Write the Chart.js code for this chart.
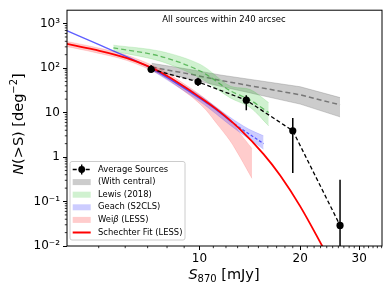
<!DOCTYPE html>
<html>
<head>
<meta charset="utf-8">
<script src="https://cdn.jsdelivr.net/npm/chart.js@4.4.0/dist/chart.umd.min.js"></script>
<style>
  html, body { margin: 0; padding: 0; background: #fff; }
</style>
</head>
<body>
<canvas id="myChart" width="390" height="293"></canvas>
<script>
// cumulative counts N(>S), S in mJy
const avgS  = [7.17, 9.9, 13.8, 19.0, 26.3];
const avgN  = [94, 49, 19, 3.9, 0.029];
const avgLo = [77, 39.5, 11.3, 0.44, 0.001];
const avgHi = [117, 60.7, 24.5, 7.5, 0.31];

const centralS  = [7.2, 9.38, 11.53, 20.0, 26.3];
const centralN  = [105, 73, 53, 25, 14.9];
const centralHi = [128, 93, 70, 38, 21.7];
const centralLo = [86, 57, 39, 15.5, 8.0];

const lewisS  = [5.53, 7.63, 10.05, 12.35, 14.18, 16.1];
const lewisN  = [284, 185, 86, 31, 19, 10];
const lewisHi = [327, 240, 121, 39.5, 33, 16.7];
const lewisLo = [240, 143, 60, 21.4, 13, 5.0];

const geachS     = [4.0, 5.05, 7.12, 10.05, 11.14, 12.35, 15.54];
const geachN     = [700, 327, 102, 20.6, 12.1, 6.5, 2.0];
const geachBandS = [7.2, 10.05, 12.35, 14.0, 15.54];
const geachHi    = [108, 24, 7.8, 4.3, 3.0];
const geachLo    = [90, 17.5, 5.2, 2.6, 1.5];

const weissS  = [4.0, 4.82, 6.07, 7.63, 9.38, 10.05, 10.5, 11.27, 12.35, 13.23, 14.35];
const weissHi = [400, 300, 195, 95, 36, 25, 19.5, 12.8, 7.2, 3.4, 1.55];
const weissLo = [305, 228, 148, 70, 24, 15.4, 11, 5.6, 2.3, 0.98, 0.33];

const fitS = [4.0, 4.82, 6.07, 7.63, 10.05, 11.27, 13.23, 15.54, 17.43, 20.0, 23.2, 24.6];
const fitN = [352, 262, 167, 81.4, 21.9, 11.8, 4.2, 1.16, 0.384, 0.0777, 0.0104, 0.0046];

const xTickVals = [10, 20, 30];
const xTickLabels = ['10', '20', '30'];
const yTickVals = [0.01, 0.1, 1, 10, 100, 1000];
const yTickLabels = ['10⁻²', '10⁻¹', '1', '10', '10²', '10³'];

const FONT = '"DejaVu Sans", sans-serif';

function pts(xs, ys) {
    return xs.map((x, i) => ({ x: x, y: ys[i] }));
}

// minor tick positions (not data)
const xMinor = [5, 6, 7, 8, 9];
for (let v = 11; v <= 35; v++) if (v !== 20 && v !== 30) xMinor.push(v);
const yMinor = [];
for (let d = 0.01; d < 2000; d *= 10) {
    for (let k = 2; k <= 9; k++) if (k * d < 2000) yMinor.push(k * d);
}

function drawParts(ctx, parts, cx, cy) {
    let w = 0;
    parts.forEach(p => { ctx.font = p.f; p.w = ctx.measureText(p.t).width; w += p.w; });
    let x = cx - w / 2;
    parts.forEach(p => {
        ctx.font = p.f;
        ctx.fillText(p.t, x, cy + (p.dy || 0));
        x += p.w;
    });
}

const extras = {
    id: 'extras',
    afterDraw(chart) {
        const { ctx, chartArea: a, scales } = chart;
        const x = scales.x, y = scales.y;
        ctx.save();

        // minor ticks
        ctx.strokeStyle = '#000';
        ctx.lineWidth = 0.8;
        ctx.beginPath();
        xMinor.forEach(v => {
            const px = x.getPixelForValue(v);
            ctx.moveTo(px, a.bottom);
            ctx.lineTo(px, a.bottom + 2.2);
        });
        yMinor.forEach(v => {
            const py = y.getPixelForValue(v);
            ctx.moveTo(a.left, py);
            ctx.lineTo(a.left - 2.2, py);
        });
        ctx.stroke();

        // frame
        ctx.strokeStyle = '#000';
        ctx.lineWidth = 1;
        ctx.strokeRect(a.left, a.top, a.right - a.left, a.bottom - a.top);

        ctx.fillStyle = '#000';
        ctx.textBaseline = 'middle';
        ctx.textAlign = 'center';
        ctx.font = '8.5px ' + FONT;
        ctx.fillText('All sources within 240 arcsec', 224, 20);

        // axis titles
        ctx.textAlign = 'left';
        ctx.textBaseline = 'alphabetic';
        drawParts(ctx, [
            { t: 'S', f: 'italic 14.5px ' + FONT },
            { t: '870', f: '10px ' + FONT, dy: 3 },
            { t: ' [mJy]', f: '14.5px ' + FONT }
        ], 224, 279);

        ctx.save();
        ctx.translate(23, 124);
        ctx.rotate(-Math.PI / 2);
        drawParts(ctx, [
            { t: 'N', f: 'italic 14.5px ' + FONT },
            { t: '(>S) [deg', f: '14.5px ' + FONT },
            { t: '−2', f: '10px ' + FONT, dy: -6 },
            { t: ']', f: '14.5px ' + FONT }
        ], 0, 0);
        ctx.restore();

        // legend
        const lx = 70, ly = 161.5, lw = 115, lh = 78.5;
        ctx.fillStyle = 'rgba(255,255,255,0.8)';
        ctx.strokeStyle = '#cccccc';
        ctx.lineWidth = 1;
        ctx.beginPath();
        ctx.roundRect(lx, ly, lw, lh, 2);
        ctx.fill();
        ctx.stroke();

        const items = [
            { kind: 'avg', label: 'Average Sources' },
            { kind: 'box', c: 'rgba(128,128,128,0.4)', label: '(With central)' },
            { kind: 'box', c: 'rgba(40,190,40,0.22)', label: 'Lewis (2018)' },
            { kind: 'box', c: 'rgba(0,0,255,0.2)', label: 'Geach (S2CLS)' },
            { kind: 'box', c: 'rgba(255,0,0,0.2)', label: 'weiss' },
            { kind: 'line', c: '#ff0000', label: 'Schechter Fit (LESS)' }
        ];
        const hx0 = 72.7, hx1 = 90.7, tx = 98;
        items.forEach((it, i) => {
            const ry = 169.5 + i * 12.6;
            if (it.kind === 'avg') {
                ctx.strokeStyle = '#000';
                ctx.lineWidth = 1.4;
                ctx.setLineDash([4, 2.5]);
                ctx.beginPath();
                ctx.moveTo(hx0, ry); ctx.lineTo(hx1, ry);
                ctx.stroke();
                ctx.setLineDash([]);
                ctx.fillStyle = '#000';
                ctx.beginPath();
                ctx.arc((hx0 + hx1) / 2, ry, 3.4, 0, Math.PI * 2);
                ctx.fill();
                ctx.lineWidth = 1.4;
                ctx.beginPath();
                ctx.moveTo((hx0 + hx1) / 2, ry - 5); ctx.lineTo((hx0 + hx1) / 2, ry + 5);
                ctx.stroke();
            } else if (it.kind === 'box') {
                ctx.fillStyle = it.c;
                ctx.fillRect(hx0, ry - 3, hx1 - hx0, 6);
            } else {
                ctx.strokeStyle = it.c;
                ctx.lineWidth = 2;
                ctx.beginPath();
                ctx.moveTo(hx0, ry); ctx.lineTo(hx1, ry);
                ctx.stroke();
            }
            ctx.fillStyle = '#000';
            ctx.textBaseline = 'middle';
            ctx.textAlign = 'left';
            if (it.label === 'weiss') {
                let px = tx;
                ctx.font = '8.4px ' + FONT;
                ctx.fillText('Wei', px, ry); px += ctx.measureText('Wei').width;
                ctx.font = 'italic 8.4px ' + FONT;
                ctx.fillText('β', px, ry); px += ctx.measureText('β').width;
                ctx.font = '8.4px ' + FONT;
                ctx.fillText(' (LESS)', px, ry);
            } else {
                ctx.font = '8.4px ' + FONT;
                ctx.fillText(it.label, tx, ry);
            }
        });

        ctx.restore();
    }
};

const band = { showLine: true, pointRadius: 0, borderWidth: 0.8, fill: false };

const datasets = [
    Object.assign({}, band, { data: pts(centralS, centralHi), borderColor: 'rgba(128,128,128,0.45)' }),
    Object.assign({}, band, { data: pts(centralS, centralLo), borderColor: 'rgba(128,128,128,0.45)',
        fill: '-1', backgroundColor: 'rgba(128,128,128,0.4)' }),
    { data: pts(centralS, centralN), showLine: true, pointRadius: 0, borderColor: '#777777',
        borderWidth: 1.5, borderDash: [5, 3], fill: false },

    Object.assign({}, band, { data: pts(lewisS, lewisHi), borderColor: 'rgba(40,190,40,0.2)', tension: 0.3 }),
    Object.assign({}, band, { data: pts(lewisS, lewisLo), borderColor: 'rgba(40,190,40,0.2)', tension: 0.3,
        fill: '-1', backgroundColor: 'rgba(40,190,40,0.22)' }),
    { data: pts(lewisS, lewisN), showLine: true, pointRadius: 0, borderColor: 'rgba(60,170,60,0.75)',
        borderWidth: 1.3, borderDash: [5, 3], fill: false, tension: 0.3 },

    Object.assign({}, band, { data: pts(weissS, weissHi), borderColor: 'rgba(255,0,0,0.15)', tension: 0.3 }),
    Object.assign({}, band, { data: pts(weissS, weissLo), borderColor: 'rgba(255,0,0,0.15)', tension: 0.3,
        fill: '-1', backgroundColor: 'rgba(255,0,0,0.2)' }),

    Object.assign({}, band, { data: pts(geachBandS, geachHi), borderColor: 'rgba(0,0,255,0.15)', tension: 0.3 }),
    Object.assign({}, band, { data: pts(geachBandS, geachLo), borderColor: 'rgba(0,0,255,0.15)', tension: 0.3,
        fill: '-1', backgroundColor: 'rgba(0,0,255,0.2)' }),
    { data: pts(geachS, geachN), showLine: true, pointRadius: 0, borderColor: 'rgba(40,40,255,0.75)',
        borderWidth: 1.3, fill: false, cubicInterpolationMode: 'monotone',
        segment: { borderDash: c => c.p0.parsed.x >= 12 ? [3, 2] : undefined } },

    { data: pts(fitS, fitN), showLine: true, pointRadius: 0, borderColor: '#ff0000',
        borderWidth: 1.8, fill: false, cubicInterpolationMode: 'monotone' },

    { data: avgS.flatMap((s, i) => [{ x: s, y: avgLo[i] }, { x: s, y: avgHi[i] }, { x: s, y: null }]),
        showLine: true, spanGaps: false, pointRadius: 0, borderColor: '#000', borderWidth: 1.5, fill: false },
    { data: pts(avgS, avgN), showLine: true, borderColor: '#000', borderWidth: 1.3, borderDash: [4, 2.5],
        pointRadius: 3.6, pointBackgroundColor: '#000', pointBorderWidth: 0, fill: false }
];
datasets.forEach((d, i) => { d.order = 100 - i; });

const ctx = document.getElementById('myChart');
new Chart(ctx, {
    type: 'scatter',
    data: { datasets: datasets },
    options: {
        responsive: false,
        animation: false,
        events: [],
        layout: { padding: { top: 9, right: 8, left: 0, bottom: 0 } },
        plugins: {
            legend: { display: false },
            tooltip: { enabled: false }
        },
        scales: {
            x: {
                type: 'logarithmic',
                min: 4.02,
                max: 35.1,
                afterBuildTicks: s => { s.ticks = xTickVals.map(v => ({ value: v })); },
                afterFit: s => { s.height = 47; },
                ticks: {
                    callback: (v, i) => xTickLabels[i],
                    color: '#000',
                    font: { family: FONT, size: 12 },
                    padding: 2,
                    maxRotation: 0,
                    autoSkip: false
                },
                grid: { drawOnChartArea: false, tickLength: 4, color: '#000', tickWidth: 1 },
                border: { display: false }
            },
            y: {
                type: 'logarithmic',
                min: 0.01,
                max: 2000,
                afterBuildTicks: s => { s.ticks = yTickVals.map(v => ({ value: v })); },
                afterFit: s => { s.width = 67; },
                ticks: {
                    callback: (v, i) => yTickLabels[i],
                    color: '#000',
                    font: { family: FONT, size: 12 },
                    padding: 3,
                    autoSkip: false
                },
                grid: { drawOnChartArea: false, tickLength: 4, color: '#000', tickWidth: 1 },
                border: { display: false }
            }
        }
    },
    plugins: [extras]
});
</script>
</body>
</html>
